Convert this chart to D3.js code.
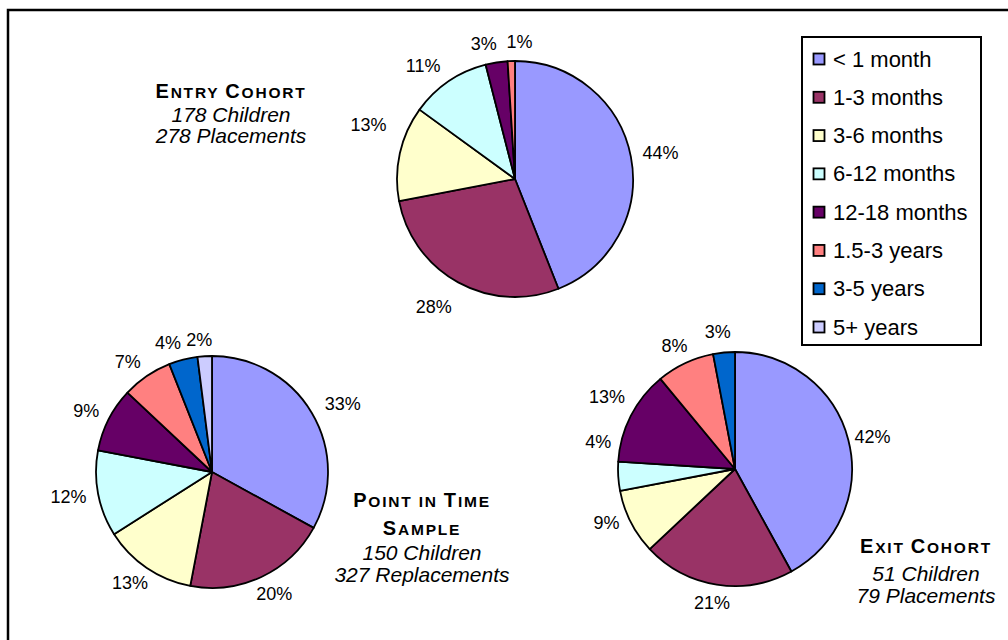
<!DOCTYPE html>
<html>
<head>
<meta charset="utf-8">
<script src="https://cdn.jsdelivr.net/npm/d3@7/dist/d3.min.js"></script>
<style>
  html, body { margin: 0; padding: 0; background: #fff; }
  svg { display: block; font-family: "Liberation Sans", Arial, sans-serif; }
</style>
</head>
<body>
<svg id="chart" width="1008" height="640"></svg>
<script>
// Length-of-stay categories shared by all three pies
const categories = ["< 1 month", "1-3 months", "3-6 months", "6-12 months",
                    "12-18 months", "1.5-3 years", "3-5 years", "5+ years"];
const colors = ["#9999FF", "#993366", "#FFFFCC", "#CCFFFF",
                "#660066", "#FF8080", "#0066CC", "#CCCCFF"];

// Percent of placements in each category
const entryValues = [44, 28, 13, 11, 3, 1, 0, 0];
const pointInTimeValues = [33, 20, 13, 12, 9, 7, 4, 2];
const exitValues = [42, 21, 9, 4, 13, 8, 3, 0];

// Caption lines for each pie
const entryTitle = ["Entry Cohort"];
const entryNotes = ["178 Children", "278 Placements"];
const pointInTimeTitle = ["Point in Time", "Sample"];
const pointInTimeNotes = ["150 Children", "327 Replacements"];
const exitTitle = ["Exit Cohort"];
const exitNotes = ["51 Children", "79 Placements"];

// Hand adjustments to crowded percent labels, [dx, dy] by category index
const entryLabelNudge = { 1: [-10, 8], 2: [-2, -24], 3: [-9, 0], 4: [-9, 0], 5: [9, -1] };
const pointInTimeLabelNudge = { 0: [5, 0], 5: [-5, 1], 6: [-9, 1], 7: [-4, 2] };
const exitLabelNudge = { 0: [-5, 2], 2: [-2, -8], 3: [5, -36], 4: [3, -10], 6: [-4, -2] };

const svg = d3.select("#chart");

// outer chart frame (continues past the bottom/right edge)
svg.append("rect")
  .attr("x", 8).attr("y", 10)
  .attr("width", 1100).attr("height", 700)
  .attr("fill", "none").attr("stroke", "#000").attr("stroke-width", 2.5);

const color = d3.scaleOrdinal().domain(categories).range(colors);
const pie = d3.pie().sort(null).value(d => d.value);

function drawPie(values, cx, cy, r, nudge) {
  const data = categories.map((c, i) => ({ cat: c, idx: i, value: values[i] }))
    .filter(d => d.value > 0);
  const arcs = pie(data);
  const arc = d3.arc().innerRadius(0).outerRadius(r);
  const g = svg.append("g").attr("transform", `translate(${cx},${cy})`);

  g.selectAll("path.slice").data(arcs).join("path")
    .attr("class", "slice")
    .attr("d", arc)
    .attr("fill", d => color(d.data.cat))
    .attr("stroke", "#000")
    .attr("stroke-width", 1.8)
    .attr("stroke-linejoin", "round");

  const pad = 12;
  g.selectAll("text.pct").data(arcs).join("text")
    .attr("class", "pct")
    .attr("font-size", 18)
    .attr("fill", "#000")
    .attr("text-anchor", "middle")
    .attr("dominant-baseline", "central")
    .text(d => d.data.value + "%")
    .each(function (d) {
      const a = (d.startAngle + d.endAngle) / 2;
      const dx = Math.sin(a), dy = -Math.cos(a);
      const w = this.getComputedTextLength(), h = 13;
      const [nx, ny] = nudge[d.data.idx] || [0, 0];
      const x = dx * (r + pad) + dx * w / 2 + nx;
      const y = dy * (r + pad) + dy * h / 2 + ny;
      d3.select(this).attr("x", x).attr("y", y);
    });
}

// Bold small-caps title line: capitals full size, lower case as smaller capitals
function smallCaps(textSel, str, big, small) {
  const parts = [];
  for (const ch of str) {
    const isCap = ch !== ch.toLowerCase();
    const size = isCap ? big : small;
    const last = parts[parts.length - 1];
    if (last && last.size === size) last.text += ch.toUpperCase();
    else parts.push({ text: ch.toUpperCase(), size });
  }
  parts.forEach(p => textSel.append("tspan").attr("font-size", p.size).text(p.text));
}

function drawCaption(cx, titleLines, noteLines, baselines) {
  const g = svg.append("g");
  let i = 0;
  titleLines.forEach(line => {
    const t = g.append("text")
      .attr("x", cx).attr("y", baselines[i++])
      .attr("text-anchor", "middle")
      .attr("font-weight", "bold")
      .attr("letter-spacing", 1.8)
      .attr("fill", "#000");
    smallCaps(t, line, 20, 15.5);
  });
  noteLines.forEach(line => {
    g.append("text")
      .attr("x", cx).attr("y", baselines[i++])
      .attr("text-anchor", "middle")
      .attr("font-style", "italic")
      .attr("font-size", 21)
      .attr("fill", "#000")
      .text(line);
  });
}

drawPie(entryValues, 515, 179, 118, entryLabelNudge);
drawPie(pointInTimeValues, 212, 472, 116, pointInTimeLabelNudge);
drawPie(exitValues, 735, 469, 117, exitLabelNudge);

drawCaption(231, entryTitle, entryNotes, [98, 122, 143]);
drawCaption(422, pointInTimeTitle, pointInTimeNotes, [507, 535, 560, 582]);
drawCaption(926, exitTitle, exitNotes, [553, 581, 603]);

// Legend
const legend = svg.append("g");
legend.append("rect")
  .attr("x", 802).attr("y", 37).attr("width", 179).attr("height", 308)
  .attr("fill", "#fff").attr("stroke", "#000").attr("stroke-width", 2);

const rowY = d3.scalePoint().domain(categories).range([59, 327]);
const items = legend.selectAll("g.item").data(categories).join("g")
  .attr("class", "item")
  .attr("transform", d => `translate(813,${rowY(d)})`);
items.append("rect")
  .attr("x", 0.5).attr("y", -5.5).attr("width", 11).attr("height", 11)
  .attr("fill", d => color(d))
  .attr("stroke", "#000").attr("stroke-width", 1.8);
items.append("text")
  .attr("x", 20).attr("y", 0)
  .attr("dominant-baseline", "central")
  .attr("font-size", 22)
  .attr("fill", "#000")
  .text(d => d);
</script>
</body>
</html>
